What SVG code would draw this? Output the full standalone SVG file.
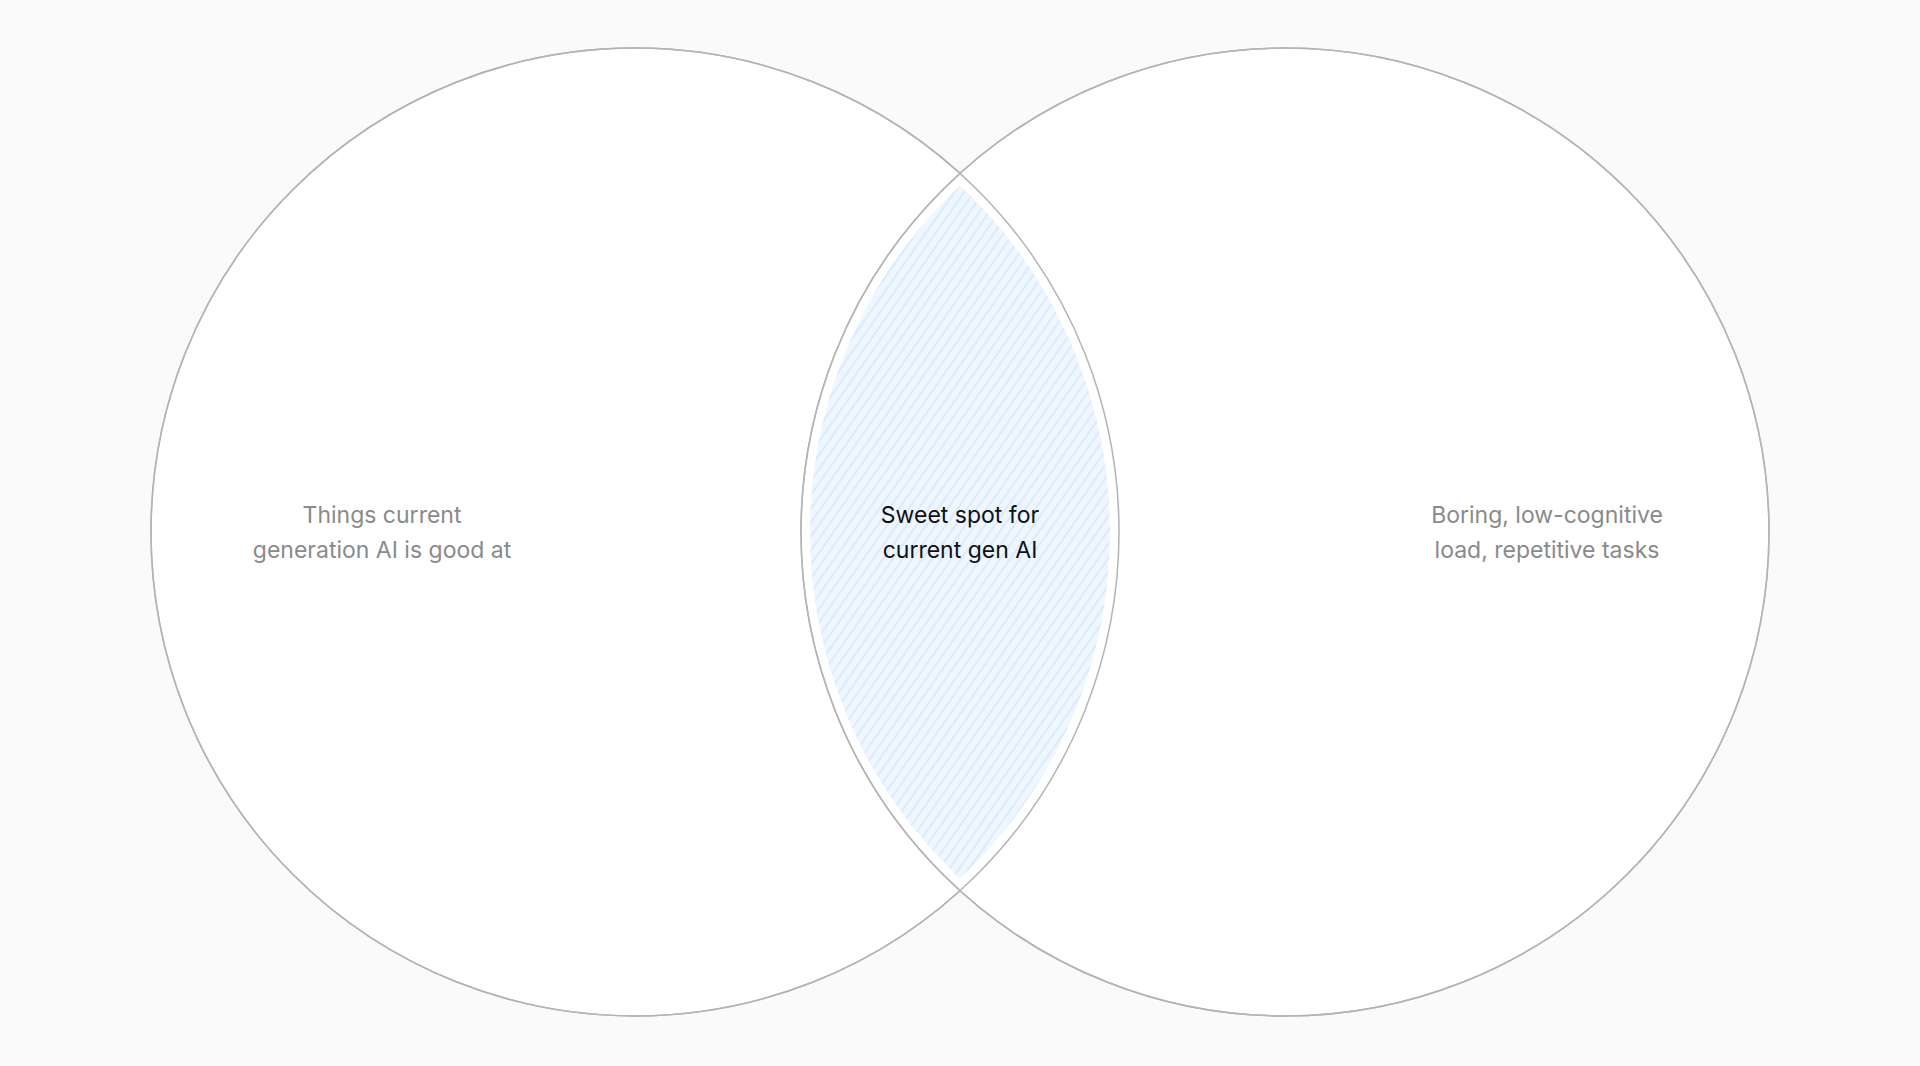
<svg xmlns="http://www.w3.org/2000/svg" width="1920" height="1066" viewBox="0 0 1920 1066">
<style>
.circle{fill:#ffffff;stroke:#b4b4b4;stroke-width:1.5}
.outline{fill:none;stroke:#b4b4b4;stroke-width:1.5}
.lbl{font-family:Inter,"Liberation Sans",sans-serif;font-size:23px;text-anchor:middle;fill:#8a8a8a}
.lbl-dark{fill:#111111}
</style>
<defs>
<pattern id="hatch" width="8" height="8" patternUnits="userSpaceOnUse" patternTransform="rotate(-55)">
<rect width="8" height="8" fill="#eef6ff"/>
<line x1="0" y1="4" x2="8" y2="4" stroke="#d3e6fc" stroke-width="1.4"/>
</pattern>
<clipPath id="clipL"><circle cx="635" cy="532" r="475"/></clipPath>
</defs>
<rect width="1920" height="1066" fill="#fafafa"/>
<g id="set-left"><circle class="circle" cx="635" cy="532" r="484"/></g>
<g id="set-right"><circle class="circle" cx="1285" cy="532" r="484"/></g>
<g id="intersection">
<circle cx="1285" cy="532" r="475" fill="url(#hatch)" clip-path="url(#clipL)"/>
</g>
<g id="outlines">
<circle class="outline" cx="635" cy="532" r="484"/>
<circle class="outline" cx="1285" cy="532" r="484"/>
</g>
<g id="label-left">
<text class="lbl" x="382" y="523">Things current</text>
<text class="lbl" x="382" y="558">generation AI is good at</text>
</g>
<g id="label-center">
<text class="lbl lbl-dark" x="960" y="523">Sweet spot for</text>
<text class="lbl lbl-dark" x="960" y="558">current gen AI</text>
</g>
<g id="label-right">
<text class="lbl" x="1547" y="523">Boring, low-cognitive</text>
<text class="lbl" x="1547" y="558">load, repetitive tasks</text>
</g>
</svg>
